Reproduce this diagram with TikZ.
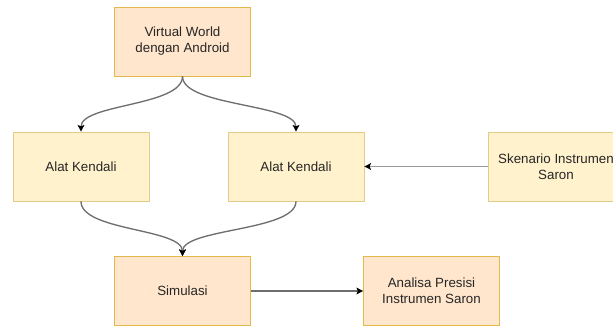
\documentclass[tikz,border=0pt]{standalone}
\usepackage{fontspec}
\setmainfont{Liberation Sans}
\usetikzlibrary{arrows.meta}

\definecolor{peachfill}{HTML}{FFE6CC}
\definecolor{peachline}{HTML}{D79B00}
\definecolor{creamfill}{HTML}{FFF2CC}
\definecolor{creamline}{HTML}{D6B656}
\definecolor{edgegrey}{HTML}{6E6E6E}

\begin{document}
\begin{tikzpicture}[x=0.75pt,y=-0.75pt,
  box/.style={rectangle, draw=#1line!70, fill=#1fill, line width=0.5pt, minimum width=102pt, minimum height=51.75pt, align=center, font=\fontsize{10}{12}\selectfont, text=black!85},
  link/.style={draw=edgegrey, line width=1pt, -{Stealth[black,length=5pt,width=5pt,inset=1pt]}}]
\clip (0,0) rectangle (613,327);
%\draw[step=10,gray,very thin] (0,0) grid (613,327);

\node[box=peach] (world) at (182.5,41.5) {Virtual World\\dengan Android};
\node[box=cream] (alat1) at (81,166.5) {Alat Kendali};
\node[box=cream] (alat2) at (296,166.5) {Alat Kendali};
\node[box=cream] (skenario) at (556,166.5) {Skenario Instrumen\\Saron};
\node[box=peach] (sim) at (182.5,291) {Simulasi};
\node[box=peach] (analisa) at (431.5,291) {Analisa Presisi\\Instrumen Saron};

\draw[link] (world.south) .. controls +(0,30) and +(0,-28) .. (alat1.north);
\draw[link] (world.south) .. controls +(0,30) and +(0,-28) .. (alat2.north);
\draw[link] (alat1.south) .. controls +(0,30) and +(0,-28) .. (sim.north);
\draw[link] (alat2.south) .. controls +(0,30) and +(0,-28) .. (sim.north);

\draw[link, draw=edgegrey!70] (skenario) -- (alat2);
\draw[link] (sim) -- (analisa);

\end{tikzpicture}
\end{document}
